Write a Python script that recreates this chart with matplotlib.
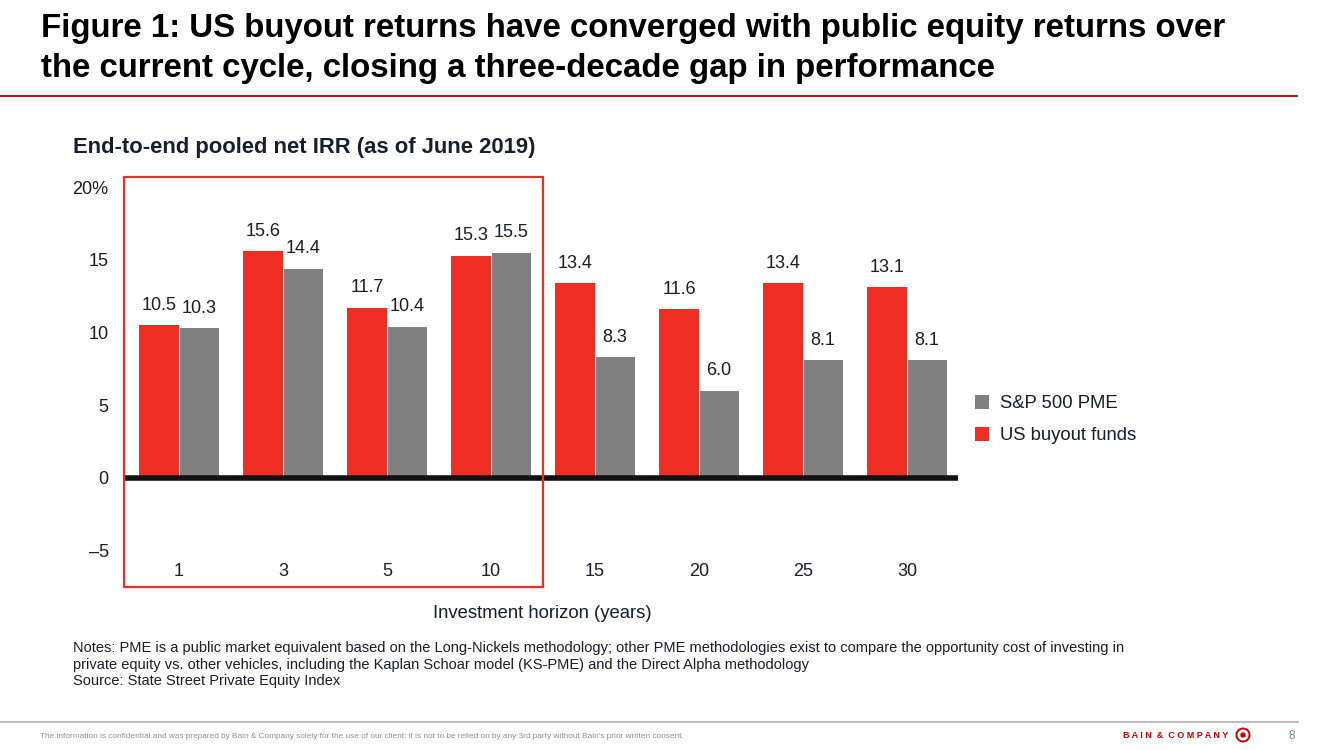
"""
    US buyout vs S&P 500 PME pooled net IRR bar chart
"""

import numpy as np
import matplotlib
import matplotlib.pyplot as plt
from matplotlib.patches import Rectangle, Ellipse
import matplotlib.transforms as mtransforms

matplotlib.use('agg')

plt.rcParams['font.family'] = ['Liberation Sans', 'DejaVu Sans']

# data
horizons = ['1', '3', '5', '10', '15', '20', '25', '30']
buyout = [10.5, 15.6, 11.7, 15.3, 13.4, 11.6, 13.4, 13.1]
spPme = [10.3, 14.4, 10.4, 15.5, 8.3, 6.0, 8.1, 8.1]
yTicks = [-5, 0, 5, 10, 15, 20]
yTickLabels = ['–5', '0', '5', '10', '15', '20%']
seriesNames = ['S&P 500 PME', 'US buyout funds']

red = '#EE2E24'
grey = '#808080'
txt = '#1c1c2a'

W, H = 1333, 750
fig = plt.figure(figsize=(W / 100, H / 100), dpi=100)


def fx(px):
    return px / W


def fy(py):
    return 1 - py / H


# title and rules
fig.text(fx(41), fy(28), 'Figure 1: US buyout returns have converged with public equity returns over',
         fontsize=23.8, fontweight='bold', color='black', va='center', ha='left')
fig.text(fx(41), fy(68), 'the current cycle, closing a three-decade gap in performance',
         fontsize=23.8, fontweight='bold', color='black', va='center', ha='left')
fig.add_artist(plt.Line2D([0, fx(1297)], [fy(96), fy(96)], color='#C00000', lw=1.3))

fig.text(fx(73), fy(147), 'End-to-end pooled net IRR (as of June 2019)',
         fontsize=15.8, fontweight='bold', color=txt, va='center', ha='left')

# main axes
ax = fig.add_axes([fx(124), fy(587), fx(958) - fx(124), fy(177) - fy(587)])
x = np.arange(len(horizons))
w = 0.38
ax.bar(x - w / 2 - 0.005, buyout, width=w, color=red, label=seriesNames[1], zorder=2)
ax.bar(x + w / 2 + 0.005, spPme, width=w, color=grey, label=seriesNames[0], zorder=2)
for xi, v in zip(x, buyout):
    ax.text(xi - w / 2, v + 0.8, '%.1f' % v, ha='center', va='bottom', fontsize=13, color=txt)
for xi, v in zip(x, spPme):
    ax.text(xi + w / 2, v + 0.8, '%.1f' % v, ha='center', va='bottom', fontsize=13, color=txt)
for xi, lab in zip(x, horizons):
    ax.text(xi, -6.4, lab, ha='center', va='center', fontsize=13, color=txt)

ax.axhline(0, color='#111111', lw=4, zorder=3)
ax.set_xlim(-0.53, 7.49)
ax.set_ylim(-7.5, 20.7)
ax.set_yticks(yTicks)
ax.set_yticklabels(yTickLabels, fontsize=13, color=txt)
ax.tick_params(axis='y', length=0, pad=11)
ax.set_xticks([])
for sp in ax.spines.values():
    sp.set_visible(False)

# red highlight box around the first four horizons
trans = mtransforms.blended_transform_factory(ax.transData, ax.transAxes)
ax.add_patch(Rectangle((-0.53, 0), 4.03, 1, transform=trans, fill=False,
                       edgecolor=red, lw=1.6, clip_on=False, zorder=4))

# legend
handles, labels = ax.get_legend_handles_labels()
fig.legend(handles[::-1], labels[::-1], loc='upper left', bbox_to_anchor=(fx(958), fy(378)),
           frameon=False, fontsize=13.3, handlelength=0.8, handleheight=0.8,
           handletextpad=0.6, labelspacing=0.78, labelcolor=txt)

fig.text(fx(542), fy(613), 'Investment horizon (years)', fontsize=13.3, color=txt,
         ha='center', va='center')

notes = ['Notes: PME is a public market equivalent based on the Long-Nickels methodology; other PME methodologies exist to compare the opportunity cost of investing in',
         'private equity vs. other vehicles, including the Kaplan Schoar model (KS-PME) and the Direct Alpha methodology',
         'Source: State Street Private Equity Index']
for i, line in enumerate(notes):
    fig.text(fx(73), fy(648 + 16.5 * i), line, fontsize=10.55, color=txt, ha='left', va='center')

# footer
fig.add_artist(plt.Line2D([0, fx(1298)], [fy(722), fy(722)], color='#b0b0b0', lw=1.2))
fig.text(fx(40), fy(736), "The information is confidential and was prepared by Bain & Company solely for the use of our client; "
         "it is not to be relied on by any 3rd party without Bain's prior written consent.",
         fontsize=5.95, color='#909090', ha='left', va='center')
fig.text(fx(1123), fy(736), 'B A I N  &  C O M P A N Y', fontsize=6.5, fontweight='bold',
         color='#CC0000', ha='left', va='center')
fig.add_artist(Ellipse((fx(1243), fy(735)), 13 / W, 13 / H, transform=fig.transFigure,
                       fill=False, edgecolor='#CC0000', lw=1.4))
fig.add_artist(Ellipse((fx(1243), fy(735)), 4 / W, 4 / H, transform=fig.transFigure,
                       color='#CC0000'))
fig.text(fx(1292), fy(736), '8', fontsize=8.5, color='#7a8aa0', ha='center', va='center')

fig.savefig('out.png', dpi=100)
